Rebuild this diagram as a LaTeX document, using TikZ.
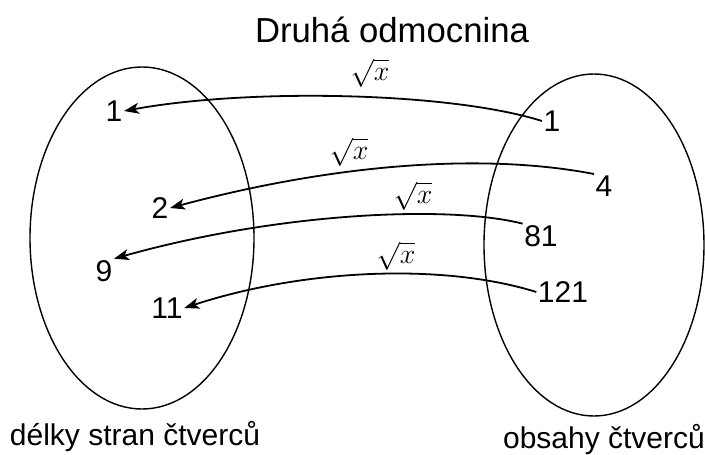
\documentclass[tikz,border=0pt]{standalone}
\usepackage{fix-cm}
\usepackage{fontspec}
\setmainfont{Liberation Sans}
\usetikzlibrary{arrows.meta,shapes.geometric}
\begin{document}
\begin{tikzpicture}[x=1pt,y=-1pt,
  settype/.style={draw,ellipse,line width=1.4pt,inner sep=0pt},
  num/.style={inner sep=1.5pt,font=\fontsize{30}{32}\selectfont},
  lab/.style={inner sep=0pt,font=\fontsize{30}{34}\selectfont},
  fn/.style={inner sep=0pt,font=\fontsize{28}{32}\selectfont},
  maparrow/.style={line width=1.8pt,-{Stealth[length=15pt,width=11pt,inset=4pt]}}]
\useasboundingbox (0,0) rectangle (705,455);
\node[inner sep=0pt,font=\fontsize{34.7}{40}\selectfont] (title) at (392,30) {Druhá odmocnina};
\node[settype,minimum width=224pt,minimum height=342pt] (L) at (142,238) {};
\node[settype,minimum width=220pt,minimum height=342pt] (R) at (594,245) {};
% left numbers
\node[num] (l1) at (114,111) {1};
\node[num] (l2) at (160,208) {2};
\node[num] (l9) at (104,271) {9};
\node[num] (l11) at (167,308) {11};
% right numbers
\node[num] (r1) at (552,121) {1};
\node[num] (r4) at (604,186) {4};
\node[num] (r81) at (541,236) {81};
\node[num] (r121) at (563,292) {121};
% function labels
\node[fn] (f1) at (370,73) {$\sqrt{x}$};
\node[fn] (f2) at (349,152) {$\sqrt{x}$};
\node[fn] (f3) at (413,196) {$\sqrt{x}$};
\node[fn] (f4) at (396,256) {$\sqrt{x}$};
% arrows
\draw[maparrow] (r1.west) .. controls (450,92) and (250,88) .. (l1.east);
\draw[maparrow] (r4.north west) .. controls (480,152) and (330,165) .. (l2.east);
\draw[maparrow] (r81.north west) .. controls (450,205) and (280,212) .. (l9.north east);
\draw[maparrow] (r121.west) .. controls (440,262) and (300,270) .. (l11.east);
% set labels
\node[lab] (ld) at (135,437) {délky stran čtverců};
\node[lab] (rd) at (604,440) {obsahy čtverců};
\end{tikzpicture}
\end{document}
